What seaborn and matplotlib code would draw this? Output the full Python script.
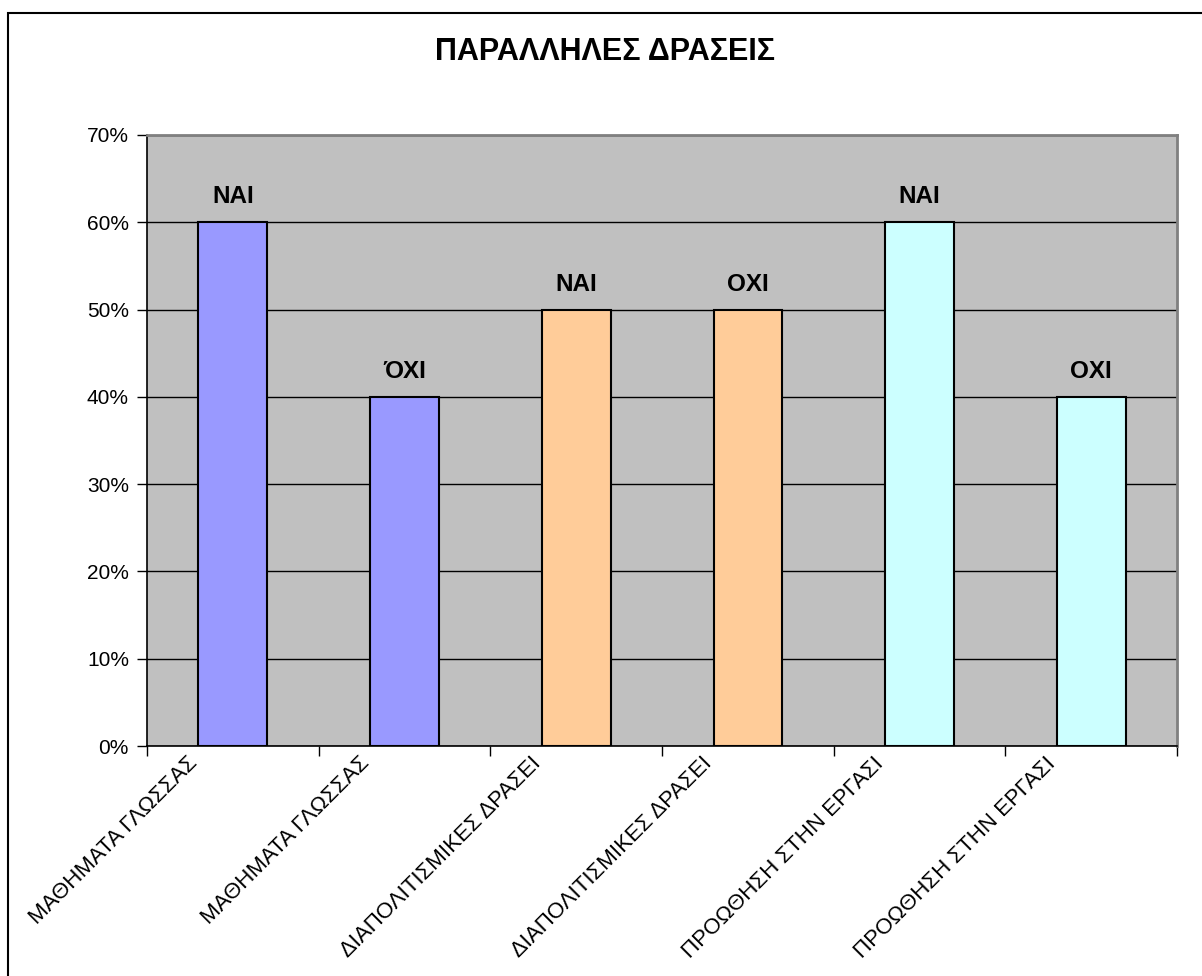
import matplotlib
matplotlib.use("Agg")
import matplotlib.pyplot as plt
import matplotlib.transforms as mtransforms
from matplotlib.patches import Rectangle
from matplotlib.ticker import PercentFormatter, FixedLocator
import seaborn as sns
import pandas as pd

# chart data
categories = ["ΜΑΘΗΜΑΤΑ ΓΛΩΣΣΑΣ", "ΜΑΘΗΜΑΤΑ ΓΛΩΣΣΑΣ",
              "ΔΙΑΠΟΛΙΤΙΣΜΙΚΕΣ ΔΡΑΣΕΙ", "ΔΙΑΠΟΛΙΤΙΣΜΙΚΕΣ ΔΡΑΣΕΙ",
              "ΠΡΟΩΘΗΣΗ ΣΤΗΝ ΕΡΓΑΣΙ", "ΠΡΟΩΘΗΣΗ ΣΤΗΝ ΕΡΓΑΣΙ"]
answers = ["ΝΑΙ", "ΌΧΙ", "ΝΑΙ", "ΟΧΙ", "ΝΑΙ", "ΟΧΙ"]
shares = [0.60, 0.40, 0.50, 0.50, 0.60, 0.40]
bar_colors = ["#9999FF", "#9999FF", "#FFCC99", "#FFCC99", "#CCFFFF", "#CCFFFF"]
y_ticks = [0.0, 0.1, 0.2, 0.3, 0.4, 0.5, 0.6, 0.7]

df = pd.DataFrame({"pos": list(range(len(categories))), "share": shares})

sns.set_style("white")
plt.rcParams["font.family"] = ["Liberation Sans", "DejaVu Sans"]
plt.rcParams["text.color"] = "black"
plt.rcParams["xtick.color"] = "black"
plt.rcParams["ytick.color"] = "black"

W, H = 1202, 976
fig = plt.figure(figsize=(W / 100, H / 100), dpi=100)
ax = fig.add_axes([147 / W, (H - 746) / H, (1177 - 147) / W, (746 - 135) / H])
ax.set_facecolor("#C0C0C0")

sns.barplot(data=df, x="pos", y="share", hue="pos", palette=bar_colors,
            saturation=1, legend=False, width=0.4, edgecolor="black",
            linewidth=1.5, ax=ax, zorder=3)

ax.set_xlim(-0.5, len(categories) - 0.5)
ax.set_ylim(0, 0.7)
ax.yaxis.set_major_locator(FixedLocator(y_ticks))
ax.yaxis.set_major_formatter(PercentFormatter(1.0, decimals=0))
ax.grid(axis="y", color="black", linewidth=1, zorder=0)
ax.set_axisbelow(True)
ax.set_xlabel("")
ax.set_ylabel("")

# answer labels above the bars
for bar, txt in zip(ax.patches, answers):
    ax.annotate(txt, (bar.get_x() + bar.get_width() / 2, bar.get_height()),
                xytext=(0, 10), textcoords="offset points", ha="center",
                va="bottom", fontsize=17.5, fontweight="bold", color="black")

# spines
for side in ["top", "right"]:
    ax.spines[side].set_color("#808080")
    ax.spines[side].set_linewidth(2)
for side in ["left", "bottom"]:
    ax.spines[side].set_color("black")
    ax.spines[side].set_linewidth(1.2)

# ticks
ax.tick_params(axis="y", direction="out", length=7, width=1, labelsize=15,
               labelcolor="black", pad=6, left=True)
ax.set_xticks(range(len(categories)))
ax.set_xticklabels(categories, rotation=45, ha="right", va="top",
                   rotation_mode="anchor", fontsize=16, color="black")
ax.tick_params(axis="x", which="major", length=0, pad=5)
ax.set_xticks([i - 0.5 for i in range(len(categories) + 1)], minor=True)
ax.tick_params(axis="x", which="minor", direction="out", length=7, width=1,
               bottom=True)
shift = mtransforms.ScaledTranslation(-46 / 100, 0, fig.dpi_scale_trans)
for lab in ax.get_xticklabels():
    lab.set_transform(lab.get_transform() + shift)

fig.text(0.503, 1 - 52 / H, "ΠΑΡΑΛΛΗΛΕΣ ΔΡΑΣΕΙΣ", ha="center", va="center",
         fontsize=22, fontweight="bold", color="black")

# chart border
fig.patches.append(Rectangle((8 / W, -0.1), 1.2, 1 - 13 / H + 0.1,
                             transform=fig.transFigure, fill=False,
                             edgecolor="black", linewidth=1.5))

fig.savefig("out.png", dpi=100)
